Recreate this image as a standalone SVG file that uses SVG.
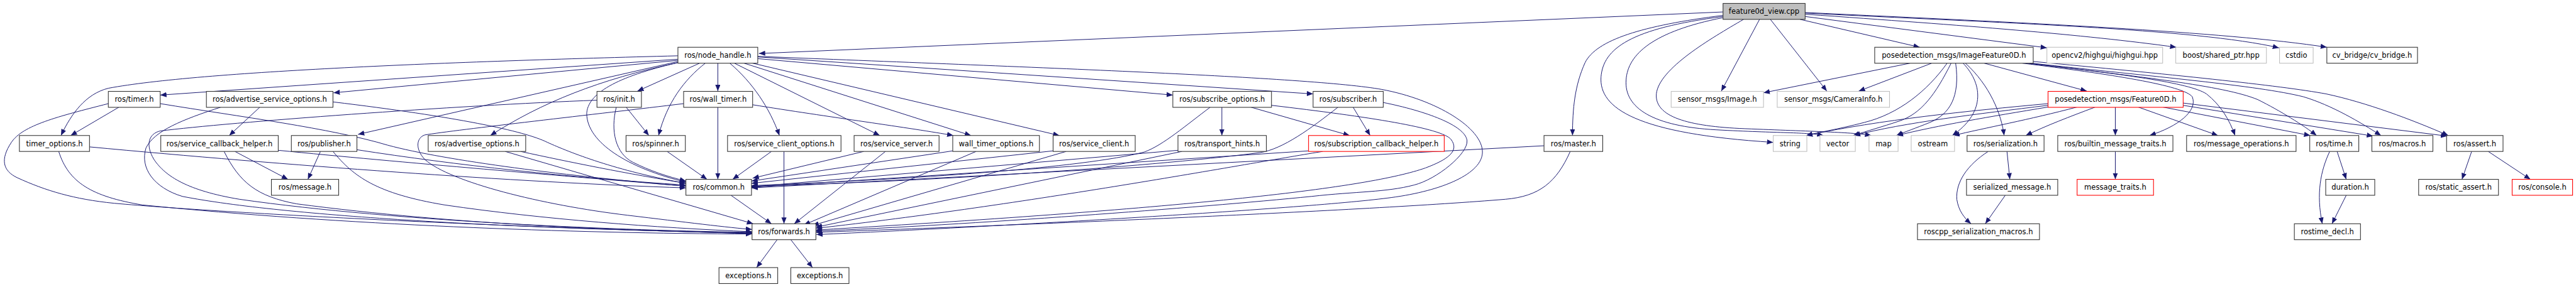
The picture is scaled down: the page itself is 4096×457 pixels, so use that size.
<svg xmlns="http://www.w3.org/2000/svg" width="4096" height="457" viewBox="0 0 4096 457">
<style>
.e path{fill:none;stroke:#191970;stroke-width:1.1;marker-end:url(#a)}
rect{fill:#fff;stroke:#333;stroke-width:1.2}
.g rect{stroke:#bfbfbf}
.r rect{stroke:#f00}
.root rect{fill:#bfbfbf}
text{font-family:"DejaVu Sans","Liberation Sans",sans-serif;font-size:12.75px;text-anchor:middle;fill:#000}
</style>
<defs>
<marker id="a" markerUnits="userSpaceOnUse" viewBox="0 0 11 9" refX="11" refY="4.5" markerWidth="11" markerHeight="9" orient="auto"><path d="M0,0 L11,4.5 L0,9 z" fill="#191970"/></marker>
</defs>
<rect x="0" y="0" width="4096" height="457" style="fill:#fff;stroke:none"/>
<g transform="scale(0.9066)">
<g id="connectors" class="e">
<path d="M3022,21 L1331,94"/>
<path d="M3022,27 C2880,45 2800,70 2780,110 C2762,150 2758,190 2758,238"/>
<path d="M3022,29 C2860,50 2812,85 2808,135 C2804,190 2870,235 3110,250"/>
<path d="M3022,31 C2900,55 2855,95 2852,140 C2848,190 2900,222 3010,228 C3120,234 3170,232 3198,238"/>
<path d="M3058,34 C3000,68 2910,120 2905,165 C2902,205 2960,222 3060,226 C3180,231 3250,232 3282,238"/>
<path d="M3086,34 L3019,160"/>
<path d="M3105,34 L3204,160"/>
<path d="M3157,34 L3367,83"/>
<path d="M3166,29 L3590,84"/>
<path d="M3166,25 C3450,45 3650,60 3817,83"/>
<path d="M3166,23 C3500,40 3850,50 3997,84"/>
<path d="M3166,22 C3550,40 3900,55 4081,83"/>
<path d="M3350,111 L3093,163"/>
<path d="M3388,111 L3260,160"/>
<path d="M3415,111 C3380,160 3330,200 3270,215 C3220,228 3190,232 3168,238"/>
<path d="M3422,111 C3395,165 3370,200 3330,213 C3300,223 3275,230 3250,238"/>
<path d="M3430,111 C3438,170 3420,200 3385,215 C3360,225 3340,232 3326,238"/>
<path d="M3443,111 C3480,150 3480,200 3424,238"/>
<path d="M3447,111 C3490,150 3510,200 3515,238"/>
<path d="M3480,111 L3660,160"/>
<path d="M3547,111 C3700,130 3830,150 3845,170 C3855,195 3820,222 3770,238"/>
<path d="M3553,111 C3720,130 3840,145 3870,165 C3895,185 3910,210 3920,238"/>
<path d="M3560,111 C3750,135 3900,150 3960,175 C4000,195 4040,220 4063,238"/>
<path d="M3563,111 C3780,135 3960,150 4040,170 C4090,185 4140,215 4176,238"/>
<path d="M3566,108 C3800,130 4000,150 4080,165 C4150,180 4230,210 4294,238"/>
<path d="M3592,182 C3450,195 3300,210 3168,238"/>
<path d="M3592,185 C3470,200 3340,215 3252,238"/>
<path d="M3592,188 C3490,205 3400,220 3327,238"/>
<path d="M3643,188 C3560,210 3480,225 3426,238"/>
<path d="M3675,188 C3630,205 3590,220 3553,238"/>
<path d="M3710,188 L3710,238"/>
<path d="M3750,188 L3890,238"/>
<path d="M3793,188 L4052,238"/>
<path d="M3829,185 L4162,239"/>
<path d="M3829,181 L4292,239"/>
<path d="M3520,266 L3525,315"/>
<path d="M3487,266 C3450,290 3430,320 3432,350 C3435,370 3445,383 3457,393"/>
<path d="M3517,343 L3482,393"/>
<path d="M3710,266 L3710,315"/>
<path d="M4099,266 L4115,315"/>
<path d="M4086,266 C4070,300 4062,340 4073,393"/>
<path d="M4115,343 L4090,393"/>
<path d="M4335,266 L4318,315"/>
<path d="M4364,266 L4438,315"/>
<path d="M1227,111 L1118,160"/>
<path d="M1237,111 C1200,140 1170,180 1155,238"/>
<path d="M1259,111 L1259,160"/>
<path d="M1280,111 C1320,145 1350,190 1367,238"/>
<path d="M1288,111 L1543,238"/>
<path d="M1305,111 L1703,238"/>
<path d="M1320,111 L1858,238"/>
<path d="M1329,103 L2057,167"/>
<path d="M1329,100 L2303,165"/>
<path d="M1329,99 C1800,118 2300,135 2423,157 C2520,175 2600,225 2600,267 C2600,305 2530,335 2440,347 C2300,366 1750,398 1432,412"/>
<path d="M1189,110 C1080,135 1030,165 1029,200 C1030,250 1100,295 1203,320"/>
<path d="M1189,98 C800,108 350,125 190,155 C150,165 125,200 107,238"/>
<path d="M1189,104 L281,167"/>
<path d="M1189,106 L585,163"/>
<path d="M1189,108 L628,236"/>
<path d="M1189,110 C1050,140 950,180 860,238"/>
<path d="M209,188 L124,238"/>
<path d="M190,182 C100,205 40,220 20,250 C0,280 5,300 30,312 C80,335 130,350 200,357 C400,375 900,400 1319,410"/>
<path d="M281,182 C420,205 580,225 680,255 C780,282 1000,310 1203,327"/>
<path d="M456,188 L402,238"/>
<path d="M388,188 C320,210 270,230 256,260 C245,295 270,330 320,345 C500,380 900,402 1319,409"/>
<path d="M584,179 C800,205 920,230 960,250 C1000,268 1080,300 1203,322"/>
<path d="M412,266 L505,315"/>
<path d="M393,266 C420,320 450,345 520,358 C800,395 1100,405 1319,410"/>
<path d="M488,264 C700,285 1000,310 1203,327"/>
<path d="M562,266 L540,315"/>
<path d="M584,266 C620,310 660,340 780,360 C950,385 1150,400 1319,407"/>
<path d="M626,263 C800,290 1000,312 1203,325"/>
<path d="M157,258 C500,290 900,320 1203,330"/>
<path d="M103,266 C120,320 160,345 250,360 C600,395 1000,410 1319,411"/>
<path d="M913,266 C1000,285 1100,305 1203,322"/>
<path d="M886,266 L1321,393"/>
<path d="M1098,188 L1138,238"/>
<path d="M1081,188 C1070,230 1080,270 1110,285 C1140,300 1170,310 1203,318"/>
<path d="M1047,176 C800,185 400,215 281,230 C260,235 255,255 270,280 C290,310 330,335 420,350 C700,390 1100,405 1319,408"/>
<path d="M1259,188 L1259,315"/>
<path d="M1320,184 C1450,205 1600,225 1672,238"/>
<path d="M1199,182 C1050,200 800,228 745,237 C730,242 728,262 745,280 C790,320 950,360 1100,378 C1200,390 1280,400 1319,403"/>
<path d="M1170,266 L1240,315"/>
<path d="M1353,266 L1285,315"/>
<path d="M1375,266 L1375,393"/>
<path d="M1515,266 L1320,313"/>
<path d="M1553,266 L1393,393"/>
<path d="M1671,265 L1318,318"/>
<path d="M1712,266 L1410,395"/>
<path d="M1847,265 L1318,322"/>
<path d="M1870,266 L1425,396"/>
<path d="M2143,188 L2143,238"/>
<path d="M2123,188 C2080,220 2040,255 2007,267 C1900,295 1600,315 1318,326"/>
<path d="M2193,188 L2367,238"/>
<path d="M2230,185 C2400,205 2530,225 2545,245 C2560,265 2540,280 2500,295 C2400,330 2100,365 1431,404"/>
<path d="M2066,264 L1318,328"/>
<path d="M2073,266 L1431,399"/>
<path d="M2373,188 L2403,238"/>
<path d="M2347,188 C2300,225 2250,262 2210,268 C2000,295 1600,320 1318,327"/>
<path d="M2426,180 C2500,195 2570,220 2573,247 C2575,270 2520,315 2480,325 C2430,338 2380,336 2300,345 C2100,365 1700,395 1431,406"/>
<path d="M2295,265 L1318,329"/>
<path d="M2320,266 C2200,285 1800,360 1431,401"/>
<path d="M2708,256 L1318,330"/>
<path d="M2754,266 C2730,320 2700,345 2640,350 C2400,370 1800,395 1431,408"/>
<path d="M1282,343 L1353,393"/>
<path d="M1363,421 L1327,470"/>
<path d="M1387,421 L1425,470"/>
</g>
<g id="n_feature0d_view" class="root"><rect x="3022" y="6" width="144" height="28"/><text x="3094" y="24.6">feature0d_view.cpp</text></g>
<g id="n_node_handle"><rect x="1189" y="83" width="140" height="28"/><text x="1259" y="101.6">ros/node_handle.h</text></g>
<g id="n_ImageFeature0D"><rect x="3288" y="83" width="278" height="28"/><text x="3427" y="101.6">posedetection_msgs/ImageFeature0D.h</text></g>
<g id="n_highgui" class="g"><rect x="3590" y="83" width="203" height="28"/><text x="3691.5" y="101.6">opencv2/highgui/highgui.hpp</text></g>
<g id="n_shared_ptr" class="g"><rect x="3816" y="83" width="159" height="28"/><text x="3895.5" y="101.6">boost/shared_ptr.hpp</text></g>
<g id="n_cstdio" class="g"><rect x="3998" y="83" width="59" height="28"/><text x="4027.5" y="101.6">cstdio</text></g>
<g id="n_cv_bridge"><rect x="4081" y="83" width="159" height="28"/><text x="4160.5" y="101.6">cv_bridge/cv_bridge.h</text></g>
<g id="n_timer"><rect x="190" y="160.5" width="91" height="28"/><text x="235.5" y="179.1">ros/timer.h</text></g>
<g id="n_advertise_service_options"><rect x="362" y="160.5" width="222" height="28"/><text x="473" y="179.1">ros/advertise_service_options.h</text></g>
<g id="n_init"><rect x="1047" y="160.5" width="78" height="28"/><text x="1086" y="179.1">ros/init.h</text></g>
<g id="n_wall_timer"><rect x="1199" y="160.5" width="121" height="28"/><text x="1259.5" y="179.1">ros/wall_timer.h</text></g>
<g id="n_subscribe_options"><rect x="2057" y="160.5" width="173" height="28"/><text x="2143.5" y="179.1">ros/subscribe_options.h</text></g>
<g id="n_subscriber"><rect x="2303" y="160.5" width="123" height="28"/><text x="2364.5" y="179.1">ros/subscriber.h</text></g>
<g id="n_Image" class="g"><rect x="2931" y="160.5" width="162" height="28"/><text x="3012" y="179.1">sensor_msgs/Image.h</text></g>
<g id="n_CameraInfo" class="g"><rect x="3117" y="160.5" width="197" height="28"/><text x="3215.5" y="179.1">sensor_msgs/CameraInfo.h</text></g>
<g id="n_Feature0D" class="r"><rect x="3592" y="160.5" width="237" height="28"/><text x="3710.5" y="179.1">posedetection_msgs/Feature0D.h</text></g>
<g id="n_timer_options"><rect x="34" y="238" width="123" height="28"/><text x="95.5" y="256.6">timer_options.h</text></g>
<g id="n_service_callback_helper"><rect x="282" y="238" width="206" height="28"/><text x="385" y="256.6">ros/service_callback_helper.h</text></g>
<g id="n_publisher"><rect x="511" y="238" width="115" height="28"/><text x="568.5" y="256.6">ros/publisher.h</text></g>
<g id="n_advertise_options"><rect x="751" y="238" width="171" height="28"/><text x="836.5" y="256.6">ros/advertise_options.h</text></g>
<g id="n_spinner"><rect x="1098" y="238" width="104" height="28"/><text x="1150" y="256.6">ros/spinner.h</text></g>
<g id="n_service_client_options"><rect x="1276" y="238" width="199" height="28"/><text x="1375.5" y="256.6">ros/service_client_options.h</text></g>
<g id="n_service_server"><rect x="1498" y="238" width="149" height="28"/><text x="1572.5" y="256.6">ros/service_server.h</text></g>
<g id="n_wall_timer_options"><rect x="1671" y="238" width="152" height="28"/><text x="1747" y="256.6">wall_timer_options.h</text></g>
<g id="n_service_client"><rect x="1847" y="238" width="144" height="28"/><text x="1919" y="256.6">ros/service_client.h</text></g>
<g id="n_transport_hints"><rect x="2066" y="238" width="155" height="28"/><text x="2143.5" y="256.6">ros/transport_hints.h</text></g>
<g id="n_subscription_callback_helper" class="r"><rect x="2295" y="238" width="238" height="28"/><text x="2414" y="256.6">ros/subscription_callback_helper.h</text></g>
<g id="n_master"><rect x="2708" y="238" width="103" height="28"/><text x="2759.5" y="256.6">ros/master.h</text></g>
<g id="n_string" class="g"><rect x="3110" y="238" width="59" height="28"/><text x="3139.5" y="256.6">string</text></g>
<g id="n_vector" class="g"><rect x="3192" y="238" width="62" height="28"/><text x="3223" y="256.6">vector</text></g>
<g id="n_map" class="g"><rect x="3278" y="238" width="51" height="28"/><text x="3303.5" y="256.6">map</text></g>
<g id="n_ostream" class="g"><rect x="3352" y="238" width="76" height="28"/><text x="3390" y="256.6">ostream</text></g>
<g id="n_serialization"><rect x="3450" y="238" width="135" height="28"/><text x="3517.5" y="256.6">ros/serialization.h</text></g>
<g id="n_builtin_message_traits"><rect x="3609" y="238" width="202" height="28"/><text x="3710" y="256.6">ros/builtin_message_traits.h</text></g>
<g id="n_message_operations"><rect x="3835" y="238" width="192" height="28"/><text x="3931" y="256.6">ros/message_operations.h</text></g>
<g id="n_time"><rect x="4051" y="238" width="86" height="28"/><text x="4094" y="256.6">ros/time.h</text></g>
<g id="n_macros"><rect x="4160" y="238" width="107" height="28"/><text x="4213.5" y="256.6">ros/macros.h</text></g>
<g id="n_assert"><rect x="4291" y="238" width="99" height="28"/><text x="4340.5" y="256.6">ros/assert.h</text></g>
<g id="n_message"><rect x="476" y="315" width="118" height="28"/><text x="535" y="333.6">ros/message.h</text></g>
<g id="n_common"><rect x="1203" y="315" width="115" height="28"/><text x="1260.5" y="333.6">ros/common.h</text></g>
<g id="n_serialized_message"><rect x="3449" y="315" width="160" height="28"/><text x="3529" y="333.6">serialized_message.h</text></g>
<g id="n_message_traits" class="r"><rect x="3643" y="315" width="134" height="28"/><text x="3710" y="333.6">message_traits.h</text></g>
<g id="n_duration"><rect x="4079" y="315" width="86" height="28"/><text x="4122" y="333.6">duration.h</text></g>
<g id="n_static_assert"><rect x="4242" y="315" width="140" height="28"/><text x="4312" y="333.6">ros/static_assert.h</text></g>
<g id="n_console" class="r"><rect x="4406" y="315" width="106" height="28"/><text x="4459" y="333.6">ros/console.h</text></g>
<g id="n_forwards"><rect x="1319" y="393" width="112" height="28"/><text x="1375" y="411.6">ros/forwards.h</text></g>
<g id="n_roscpp_serialization_macros"><rect x="3363" y="393" width="214" height="28"/><text x="3470" y="411.6">roscpp_serialization_macros.h</text></g>
<g id="n_rostime_decl"><rect x="4024" y="393" width="116" height="28"/><text x="4082" y="411.6">rostime_decl.h</text></g>
<g id="n_exceptions_1"><rect x="1261" y="470" width="103" height="28"/><text x="1312.5" y="488.6">exceptions.h</text></g>
<g id="n_exceptions_2"><rect x="1387" y="470" width="102" height="28"/><text x="1438" y="488.6">exceptions.h</text></g>
</g>
</svg>
